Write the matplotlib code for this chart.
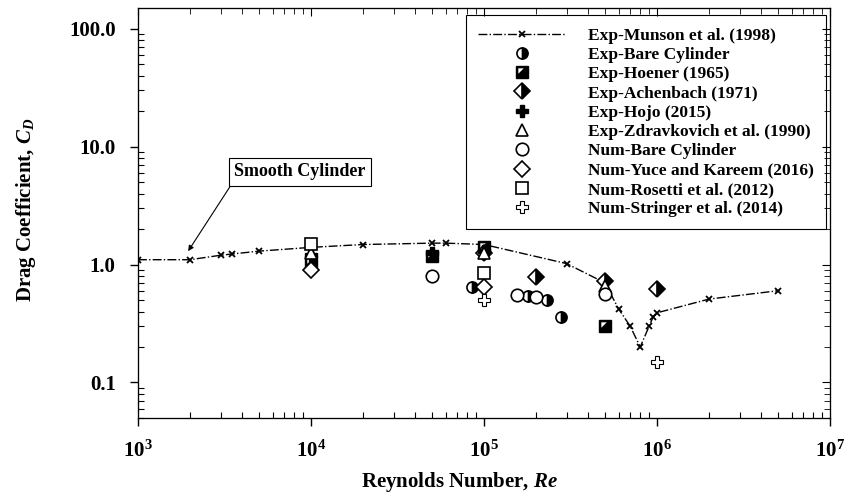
import numpy as np
import matplotlib
matplotlib.use('Agg')
import matplotlib.pyplot as plt
from matplotlib.ticker import FixedLocator, LogLocator, NullFormatter
from matplotlib.legend_handler import HandlerTuple

plt.rcParams['font.family'] = ['Liberation Serif', 'DejaVu Serif']
plt.rcParams['font.weight'] = 'bold'
plt.rcParams['axes.labelweight'] = 'bold'
plt.rcParams['mathtext.fontset'] = 'custom'
plt.rcParams['mathtext.rm'] = 'Liberation Serif:bold'
plt.rcParams['mathtext.bf'] = 'Liberation Serif:bold'
plt.rcParams['mathtext.it'] = 'Liberation Serif:italic:bold'

# Munson et al. (1998) smooth cylinder curve
munson_re = [1e3, 2e3, 3e3, 3.5e3, 5e3, 1e4, 2e4, 5e4, 6e4, 1e5, 3e5, 5e5,
             6e5, 7e5, 8e5, 9e5, 9.5e5, 1e6, 2e6, 5e6]
munson_cd = [1.1, 1.1, 1.2, 1.23, 1.3, 1.4, 1.48, 1.52, 1.52, 1.48, 1.02, 0.7,
             0.42, 0.3, 0.2, 0.3, 0.36, 0.39, 0.51, 0.6]

bare_exp_re = [1e4, 8.5e4, 1.8e5, 2.3e5, 2.8e5]
bare_exp_cd = [1.1, 0.65, 0.54, 0.5, 0.36]

hoener_re = [1e4, 5e4, 1e5, 5e5]
hoener_cd = [1.05, 1.18, 1.42, 0.3]

achenbach_re = [1e5, 2e5, 5e5, 1e6]
achenbach_cd = [1.25, 0.79, 0.72, 0.62]

hojo_re = [1e4, 5e4, 1e5]
hojo_cd = [1.2, 1.25, 1.3]

zdrav_re = [1e4, 1e5, 5e5]
zdrav_cd = [1.25, 1.25, 0.66]

bare_num_re = [5e4, 1.55e5, 2e5, 5e5]
bare_num_cd = [0.8, 0.55, 0.53, 0.56]

yuce_re = [1e4, 1e5]
yuce_cd = [0.9, 0.65]

rosetti_re = [1e4, 1e5]
rosetti_cd = [1.5, 0.85]

stringer_re = [1e5, 1e6]
stringer_cd = [0.5, 0.15]

fig = plt.figure(figsize=(8.48, 5.01), dpi=100)
ax = fig.add_axes([0.1627, 0.1657, 0.8161, 0.8183])

ms = 8
h_munson, = ax.plot(munson_re, munson_cd, color='black', linestyle='-.', linewidth=1,
                    marker='x', markersize=5, markeredgewidth=1.3)
h_bare, = ax.plot(bare_exp_re, bare_exp_cd, linestyle='none', marker='o', markersize=ms,
                  fillstyle='right', markerfacecolor='black', markerfacecoloralt='white',
                  markeredgecolor='black', markeredgewidth=1.2)
h_hoen, = ax.plot(hoener_re, hoener_cd, linestyle='none', marker='s', markersize=ms,
                  markerfacecolor='black', markeredgecolor='black')
tri = [(-1, 1), (0.3, 1), (-1, -0.3)]
h_hoen2, = ax.plot(hoener_re, hoener_cd, linestyle='none', marker=tri, markersize=ms * 0.75,
                   markerfacecolor='white', markeredgewidth=0)
h_ach, = ax.plot(achenbach_re, achenbach_cd, linestyle='none', marker='D', markersize=ms,
                 fillstyle='right', markerfacecolor='black', markerfacecoloralt='white',
                 markeredgecolor='black', markeredgewidth=1.2)
h_hojo, = ax.plot(hojo_re, hojo_cd, linestyle='none', marker='P', markersize=ms,
                  color='black')
h_zdr, = ax.plot(zdrav_re, zdrav_cd, linestyle='none', marker='^', markersize=ms,
                 markerfacecolor='white', markeredgecolor='black', markeredgewidth=1.2)
h_bnum, = ax.plot(bare_num_re, bare_num_cd, linestyle='none', marker='o', markersize=ms + 1,
                  markerfacecolor='white', markeredgecolor='black', markeredgewidth=1.2)
h_yuce, = ax.plot(yuce_re, yuce_cd, linestyle='none', marker='D', markersize=ms,
                  markerfacecolor='white', markeredgecolor='black', markeredgewidth=1.2)
h_ros, = ax.plot(rosetti_re, rosetti_cd, linestyle='none', marker='s', markersize=ms,
                 markerfacecolor='white', markeredgecolor='black', markeredgewidth=1.2)
h_str, = ax.plot(stringer_re, stringer_cd, linestyle='none', marker='P', markersize=ms,
                 markerfacecolor='white', markeredgecolor='black', markeredgewidth=0.8)

ax.set_xscale('log')
ax.set_yscale('log')
ax.set_xlim(1e3, 1e7)
ax.set_ylim(0.05, 150)

ax.xaxis.set_major_locator(FixedLocator([1e3, 1e4, 1e5, 1e6, 1e7]))
ax.set_xticklabels([r'$\mathbf{10^{3}}$', r'$\mathbf{10^{4}}$', r'$\mathbf{10^{5}}$',
                    r'$\mathbf{10^{6}}$', r'$\mathbf{10^{7}}$'])
ax.yaxis.set_major_locator(FixedLocator([0.1, 1, 10, 100]))
ax.set_yticklabels(['0.1', '1.0', '10.0', '100.0'])
ax.xaxis.set_minor_locator(LogLocator(base=10, subs=np.arange(2, 10)))
ax.yaxis.set_minor_locator(LogLocator(base=10, subs=np.arange(2, 10)))
ax.xaxis.set_minor_formatter(NullFormatter())
ax.yaxis.set_minor_formatter(NullFormatter())
ax.tick_params(which='major', direction='out', length=6, width=1, labelsize=15, pad=10)
ax.tick_params(which='minor', direction='in', length=4, width=0.8)

# inward ticks on top and right
axr = ax.twinx()
axr.set_yscale('log')
axr.set_ylim(ax.get_ylim())
axr.yaxis.set_major_locator(FixedLocator([0.1, 1, 10, 100]))
axr.yaxis.set_minor_locator(LogLocator(base=10, subs=np.arange(2, 10)))
axr.tick_params(which='both', direction='in', labelright=False)
axr.tick_params(which='major', length=6)
axr.tick_params(which='minor', length=4)
axt = ax.twiny()
axt.set_xscale('log')
axt.set_xlim(ax.get_xlim())
axt.xaxis.set_major_locator(FixedLocator([1e3, 1e4, 1e5, 1e6, 1e7]))
axt.xaxis.set_minor_locator(LogLocator(base=10, subs=np.arange(2, 10)))
axt.tick_params(which='both', direction='in', labeltop=False)
axt.tick_params(which='major', length=6)
axt.tick_params(which='minor', length=4)

ax.set_xlabel(r'Reynolds Number, $\mathit{Re}$', fontsize=15, fontweight='bold')
ax.set_ylabel(r'Drag Coefficient, $\mathit{C_D}$', fontsize=15, fontweight='bold')
ax.xaxis.set_label_coords(0.464, -0.128)
ax.yaxis.set_label_coords(-0.145, 0.507)

ax.annotate('Smooth Cylinder', xy=(1950, 1.3), xytext=(8600, 6.1),
            fontsize=13, fontweight='bold', ha='center', va='center',
            bbox=dict(boxstyle='square,pad=0.3', facecolor='white', edgecolor='black', linewidth=0.8),
            arrowprops=dict(arrowstyle='-|>', color='black', linewidth=0.8,
                            shrinkA=0, shrinkB=0, mutation_scale=8,
                            relpos=(0.0, 0.0)))

handles = [h_munson, h_bare, (h_hoen, h_hoen2), h_ach, h_hojo, h_zdr, h_bnum, h_yuce, h_ros, h_str]
labels = ['Exp-Munson et al. (1998)', 'Exp-Bare Cylinder', 'Exp-Hoener (1965)',
          'Exp-Achenbach (1971)', 'Exp-Hojo (2015)', 'Exp-Zdravkovich et al. (1990)',
          'Num-Bare Cylinder', 'Num-Yuce and Kareem (2016)', 'Num-Rosetti et al. (2012)',
          'Num-Stringer et al. (2014)']
leg = ax.legend(handles, labels, loc='upper right', bbox_to_anchor=(0.994, 0.982),
                handler_map={tuple: HandlerTuple(ndivide=1)}, borderaxespad=0,
                fontsize=12.5, handlelength=5.0, handletextpad=1.3, labelspacing=0.18,
                borderpad=0.7, frameon=True, fancybox=False, framealpha=1)
leg.get_frame().set_edgecolor('black')
leg.get_frame().set_linewidth(0.8)

fig.savefig('out.png', dpi=100)
